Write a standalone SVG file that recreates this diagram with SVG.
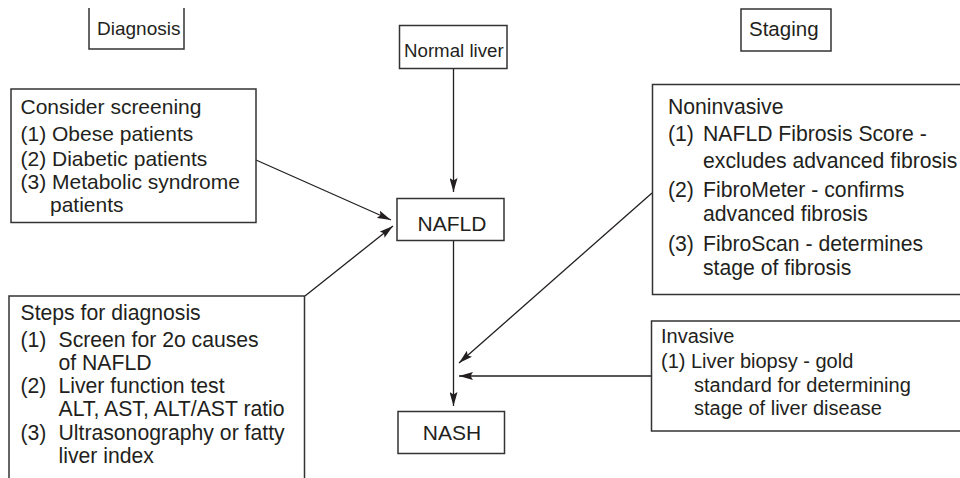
<svg xmlns="http://www.w3.org/2000/svg" width="960" height="478" viewBox="0 0 960 478">
<style>
.box{fill:#fff;stroke:#333;stroke-width:1.5}
.open{fill:none;stroke:#333;stroke-width:1.5}
.t{font-family:"Liberation Sans",Arial,sans-serif;fill:#231f20}
.c{stroke:#231f20;stroke-width:1.3;fill:none}
</style>
<defs>
<marker id="ah" markerUnits="userSpaceOnUse" markerWidth="14" markerHeight="8" refX="14" refY="4" orient="auto">
<path d="M0,0 L14,4 L0,8 L2.5,4 Z" fill="#231f20"/>
</marker>
</defs>
<rect width="960" height="478" fill="#fff"/>
<g id="connectors">
<line class="c" x1="453.5" y1="68.5" x2="453.5" y2="192" marker-end="url(#ah)"/>
<line class="c" x1="453.5" y1="241" x2="453.5" y2="406" marker-end="url(#ah)"/>
<line class="c" x1="256" y1="160" x2="391" y2="220" marker-end="url(#ah)"/>
<line class="c" x1="305" y1="296" x2="393" y2="226" marker-end="url(#ah)"/>
<line class="c" x1="652" y1="193" x2="459" y2="363" marker-end="url(#ah)"/>
<line class="c" x1="651" y1="376" x2="459" y2="376" marker-end="url(#ah)"/>
</g>
<g id="diagnosis">
<path class="open" d="M89,8 V49 H184 V8"/>
<text class="t" x="97" y="35" font-size="19">Diagnosis</text>
</g>
<g id="staging">
<rect class="box" x="741" y="9" width="90" height="42"/>
<text class="t" x="749" y="36" font-size="20.5">Staging</text>
</g>
<g id="normal-liver">
<rect class="box" x="399.5" y="25.5" width="107.5" height="43"/>
<text class="t" x="404" y="57" font-size="18.7">Normal liver</text>
</g>
<g id="nafld">
<rect class="box" x="397" y="198.5" width="107" height="42"/>
<text class="t" x="452" y="231" font-size="21" text-anchor="middle">NAFLD</text>
</g>
<g id="nash">
<rect class="box" x="398" y="411.5" width="106.5" height="42"/>
<text class="t" x="452" y="440" font-size="21" text-anchor="middle">NASH</text>
</g>
<g id="consider-screening">
<rect class="box" x="11" y="89" width="245" height="133.5"/>
<text class="t" font-size="21">
<tspan x="20.5" y="114">Consider screening</tspan>
<tspan x="20.5" y="140.5">(1) Obese patients</tspan>
<tspan x="20.5" y="165.5">(2) Diabetic patients</tspan>
<tspan x="20.5" y="189">(3) Metabolic syndrome</tspan>
<tspan x="50" y="212">patients</tspan>
</text>
</g>
<g id="steps-for-diagnosis">
<path class="open" d="M9,479 V296 H304.5 V479"/>
<text class="t" font-size="21.2">
<tspan x="20.5" y="320">Steps for diagnosis</tspan>
<tspan x="20.5" y="347">(1)</tspan><tspan x="58.5" y="347">Screen for 2o causes</tspan>
<tspan x="58.5" y="370">of NAFLD</tspan>
<tspan x="20.5" y="393">(2)</tspan><tspan x="58.5" y="393">Liver function test</tspan>
<tspan x="58.5" y="416">ALT, AST, ALT/AST ratio</tspan>
<tspan x="20.5" y="439.5">(3)</tspan><tspan x="58.5" y="439.5">Ultrasonography or fatty</tspan>
<tspan x="58.5" y="462.5">liver index</tspan>
</text>
</g>
<g id="noninvasive">
<path class="open" d="M961,84.5 H652.5 V294.5 H961"/>
<text class="t" font-size="21.2">
<tspan x="668" y="114">Noninvasive</tspan>
<tspan x="668" y="141">(1)</tspan><tspan x="703" y="141">NAFLD Fibrosis Score -</tspan>
<tspan x="703" y="168">excludes advanced fibrosis</tspan>
<tspan x="668" y="197">(2)</tspan><tspan x="703" y="197">FibroMeter - confirms</tspan>
<tspan x="703" y="221">advanced fibrosis</tspan>
<tspan x="668" y="251">(3)</tspan><tspan x="703" y="251">FibroScan - determines</tspan>
<tspan x="703" y="275">stage of fibrosis</tspan>
</text>
</g>
<g id="invasive">
<path class="open" d="M961,321 H651.5 V431 H961"/>
<text class="t" font-size="20">
<tspan x="661" y="343">Invasive</tspan>
<tspan x="661" y="368">(1) Liver biopsy - gold</tspan>
<tspan x="694" y="391.5">standard for determining</tspan>
<tspan x="694" y="415">stage of liver disease</tspan>
</text>
</g>
</svg>
